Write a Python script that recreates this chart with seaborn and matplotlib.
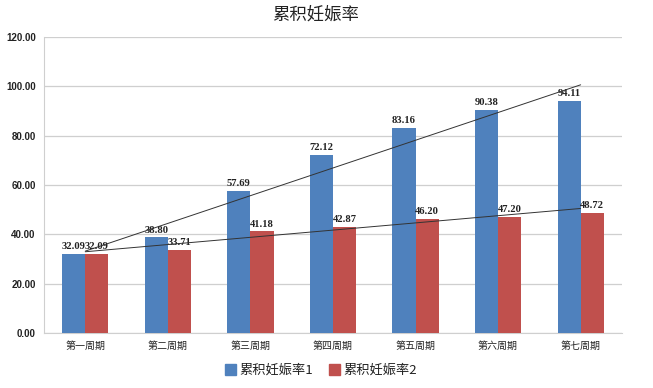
import numpy as np
import pandas as pd
import matplotlib
matplotlib.use('Agg')
import matplotlib.pyplot as plt
import seaborn as sns

# 数据
periods = ['第一周期', '第二周期', '第三周期', '第四周期', '第五周期', '第六周期', '第七周期']
rate1 = [32.09, 38.80, 57.69, 72.12, 83.16, 90.38, 94.11]
rate2 = [32.09, 33.71, 41.18, 42.87, 46.20, 47.20, 48.72]
series_names = ['累积妊娠率1', '累积妊娠率2']
colors = ['#4F81BD', '#C0504D']

df = pd.DataFrame({
    'period': periods * 2,
    'value': rate1 + rate2,
    'series': [series_names[0]] * len(periods) + [series_names[1]] * len(periods),
})

sns.set_style('white')
plt.rcParams['font.family'] = ['Noto Sans CJK SC', 'DejaVu Sans']
plt.rcParams['axes.unicode_minus'] = False

fig = plt.figure(figsize=(6.53, 3.88), dpi=100)
ax = fig.add_axes([0.0674, 0.1418, 0.885, 0.7628])

sns.barplot(data=df, x='period', y='value', hue='series', palette=colors,
            width=0.56, ax=ax, legend=False, zorder=3, saturation=1, linewidth=0)

# 数值标签
for container in ax.containers:
    ax.bar_label(container, fmt='%.2f', padding=2, fontsize=7.6,
                 family='Liberation Serif', fontweight='bold', color='#222222')

# 线性趋势线
xs = np.arange(len(periods))
for vals in (rate1, rate2):
    k, b = np.polyfit(xs, vals, 1)
    ax.plot([xs[0], xs[-1]], [k * xs[0] + b, k * xs[-1] + b],
            color='#333333', lw=0.7, zorder=4)

ax.set_ylim(0, 120)
ax.set_yticks(np.arange(0, 121, 20))
ax.set_yticklabels([f'{v:.2f}' for v in np.arange(0, 121, 20)],
                   fontsize=7, fontweight='bold', family='Liberation Sans', color='#222222')
ax.set_xlim(-0.5, len(periods) - 0.5)
ax.set_xticks(xs)
ax.set_xticklabels(periods, fontsize=7.2, color='#222222')
ax.set_xlabel('')
ax.set_ylabel('')
ax.tick_params(axis='both', length=0, pad=6)
ax.yaxis.grid(True, color='#cfcfcf', lw=0.9, zorder=0)
ax.set_axisbelow(True)
for s in ['top', 'right']:
    ax.spines[s].set_visible(False)
ax.spines['left'].set_color('#cfcfcf')
ax.spines['bottom'].set_color('#cfcfcf')

fig.text(0.484, 0.962, '累积妊娠率', fontsize=12.5, color='#222222',
         ha='center', va='center')

handles = [plt.Rectangle((0, 0), 1, 1, color=c) for c in colors]
leg = fig.legend(handles, series_names, loc='center', bbox_to_anchor=(0.492, 0.045),
                 ncol=2, frameon=False, fontsize=9.5, handlelength=0.8, handleheight=0.8,
                 handletextpad=0.3, columnspacing=1.2)
for t in leg.get_texts():
    t.set_color('#222222')

fig.savefig('out.png', dpi=100)
